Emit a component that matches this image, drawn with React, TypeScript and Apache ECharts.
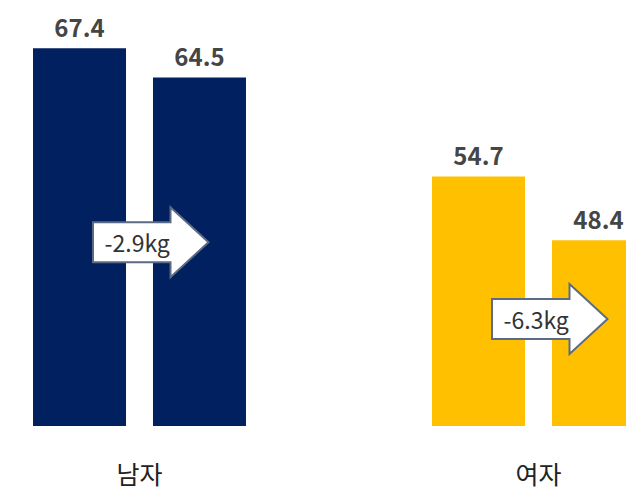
import React, { useEffect, useRef } from "react";
import * as echarts from "echarts";

const categories = ["남자", "여자"];
const beforeValues = [67.4, 54.7];
const afterValues = [64.5, 48.4];
const changeLabels = ["-2.9kg", "-6.3kg"];
const arrowLevels = [48.2, 40.6];
const barColors = ["#002060", "#FFC000"];

const FONT = "'Noto Sans CJK KR', 'Noto Sans', sans-serif";

export default function App() {
  const ref = useRef<HTMLDivElement>(null);
  useEffect(() => {
    if (!ref.current) return;
    const chart = echarts.init(ref.current, undefined, { renderer: "svg" });
    const labelStyle = {
      show: true,
      position: "top" as const,
      distance: 10,
      fontSize: 24,
      fontWeight: "bold" as const,
      color: "#454545",
      fontFamily: FONT,
    };
    chart.setOption({
      animation: false,
      backgroundColor: "#ffffff",
      grid: {
        left: -60,
        right: -112,
        top: 22,
        bottom: 67,
        containLabel: false,
        outerBoundsMode: "none",
      },
      xAxis: {
        type: "category",
        data: categories,
        axisLine: { show: false },
        axisTick: { show: false },
        axisLabel: {
          fontSize: 25,
          color: "#222222",
          margin: 34,
          fontFamily: FONT,
        },
      },
      yAxis: {
        type: "value",
        min: 30,
        max: 70,
        show: false,
        splitLine: { show: false },
      },
      series: [
        {
          type: "bar",
          barWidth: 93,
          barGap: "29%",
          data: beforeValues.map((v, i) => ({ value: v, itemStyle: { color: barColors[i] } })),
          label: labelStyle,
        },
        {
          type: "bar",
          barWidth: 93,
          barGap: "29%",
          data: afterValues.map((v, i) => ({ value: v, itemStyle: { color: barColors[i] } })),
          label: labelStyle,
        },
      ],
    });

    const graphics: any[] = [];
    categories.forEach((_, i) => {
      const p = chart.convertToPixel({ gridIndex: 0 }, [i, arrowLevels[i]]) as number[];
      const cx = p[0];
      const cy = p[1];
      graphics.push({
        type: "polygon",
        shape: {
          points: [
            [cx - 46.5, cy - 20],
            [cx + 31, cy - 20],
            [cx + 31, cy - 35],
            [cx + 69, cy],
            [cx + 31, cy + 35],
            [cx + 31, cy + 20],
            [cx - 46.5, cy + 20],
          ],
        },
        style: { fill: "#ffffff", stroke: "#5b6b85", lineWidth: 2 },
        z: 10,
      });
      graphics.push({
        type: "text",
        x: cx - 35,
        y: cy,
        style: {
          text: changeLabels[i],
          fontSize: 23,
          fontFamily: FONT,
          fill: "#333333",
          textAlign: "left",
          textVerticalAlign: "middle",
        },
        z: 11,
      });
    });
    chart.setOption({ graphic: graphics });

    return () => chart.dispose();
  }, []);
  return (
    <div
      ref={ref}
      style={{ position: "fixed", left: 0, top: 0, width: 626, height: 493 }}
    />
  );
}
